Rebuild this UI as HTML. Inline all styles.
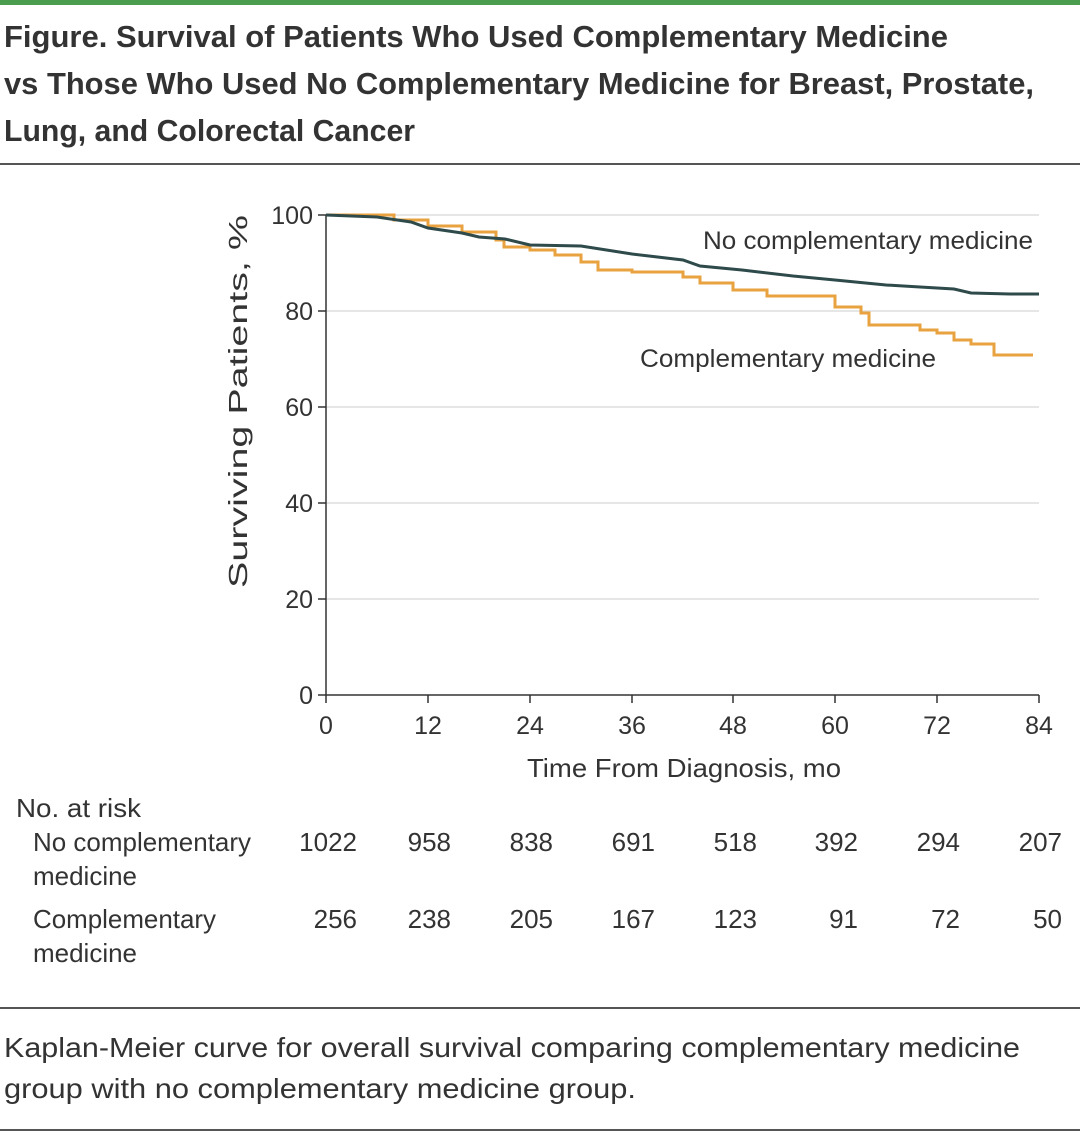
<!DOCTYPE html>
<html><head><meta charset="utf-8"><style>
body{margin:0;width:1080px;height:1136px;background:#fff;font-family:"Liberation Sans",sans-serif;color:#333;overflow:hidden}
</style></head><body>
<svg width="1080" height="1136" xmlns="http://www.w3.org/2000/svg" font-family="Liberation Sans, sans-serif">
<rect x="0" y="0" width="1080" height="5" fill="#4a9c4f"/>
<g font-size="31" fill="#333" font-weight="bold" lengthAdjust="spacingAndGlyphs">
<text x="4" y="47" textLength="944" lengthAdjust="spacingAndGlyphs">Figure. Survival of Patients Who Used Complementary Medicine</text>
<text x="4" y="94" textLength="1030" lengthAdjust="spacingAndGlyphs">vs Those Who Used No Complementary Medicine for Breast, Prostate,</text>
<text x="4" y="141" textLength="411" lengthAdjust="spacingAndGlyphs">Lung, and Colorectal Cancer</text>
</g>
<line x1="0" y1="164" x2="1080" y2="164" stroke="#555" stroke-width="2"/>
<g stroke="#ddd" stroke-width="1.5">
<line x1="326" y1="215" x2="1039" y2="215"/><line x1="326" y1="311" x2="1039" y2="311"/>
<line x1="326" y1="407" x2="1039" y2="407"/><line x1="326" y1="503" x2="1039" y2="503"/>
<line x1="326" y1="599" x2="1039" y2="599"/>
</g>
<g stroke="#333" stroke-width="1.5">
<line x1="326" y1="215" x2="326" y2="695"/><line x1="326" y1="695" x2="1039" y2="695"/>
<line x1="318" y1="215" x2="326" y2="215"/><line x1="318" y1="311" x2="326" y2="311"/><line x1="318" y1="407" x2="326" y2="407"/><line x1="318" y1="503" x2="326" y2="503"/><line x1="318" y1="599" x2="326" y2="599"/><line x1="318" y1="695" x2="326" y2="695"/>
<line x1="326" y1="695" x2="326" y2="703"/><line x1="428" y1="695" x2="428" y2="703"/><line x1="530" y1="695" x2="530" y2="703"/><line x1="632" y1="695" x2="632" y2="703"/><line x1="733" y1="695" x2="733" y2="703"/><line x1="835" y1="695" x2="835" y2="703"/><line x1="937" y1="695" x2="937" y2="703"/><line x1="1039" y1="695" x2="1039" y2="703"/>
</g>
<g font-size="25" fill="#333" text-anchor="end">
<text x="313" y="224">100</text><text x="313" y="320">80</text><text x="313" y="416">60</text><text x="313" y="512">40</text><text x="313" y="608">20</text><text x="313" y="704">0</text>
</g>
<g font-size="25" fill="#333" text-anchor="middle">
<text x="326" y="734">0</text><text x="428" y="734">12</text><text x="530" y="734">24</text><text x="632" y="734">36</text><text x="733" y="734">48</text><text x="835" y="734">60</text><text x="937" y="734">72</text><text x="1039" y="734">84</text>
</g>
<text x="527" y="777" font-size="26" fill="#333" textLength="314" lengthAdjust="spacingAndGlyphs">Time From Diagnosis, mo</text>
<text transform="translate(247,588) rotate(-90)" font-size="26" fill="#333" textLength="373" lengthAdjust="spacingAndGlyphs">Surviving Patients, %</text>
<polyline fill="none" stroke="#e8a23f" stroke-width="3" points="326,215 394,215 394,220 428,220 428,226 462,226 462,232 496,232 496,240 504,240 504,247 530,247 530,250 555,250 555,255 581,255 581,262 598,262 598,270 632,270 632,272 683,272 683,277 700,277 700,283 733,283 733,290 767,290 767,296 835,296 835,307 861,307 861,313 869,313 869,325 920,325 920,330 937,330 937,333 954,333 954,340 971,340 971,344 994,344 994,355 1033,355"/>
<polyline fill="none" stroke="#2e4a4a" stroke-width="3" points="326,215 377,217 411,222 428,228 462,233 479,237 505,239 530,245 581,246 632,254 683,260 700,266 742,270 793,276 835,280 886,285 920,287 954,289 971,293 1010,294 1039,294"/>
<g font-size="25" fill="#333" lengthAdjust="spacingAndGlyphs">
<text x="703" y="249" textLength="330" lengthAdjust="spacingAndGlyphs">No complementary medicine</text>
<text x="640" y="367" textLength="296" lengthAdjust="spacingAndGlyphs">Complementary medicine</text>
</g>
<g font-size="26" fill="#333">
<text x="16" y="817" textLength="125" lengthAdjust="spacingAndGlyphs">No. at risk</text>
<text x="33" y="851" textLength="218" lengthAdjust="spacingAndGlyphs">No complementary</text><text x="33" y="885" textLength="104" lengthAdjust="spacingAndGlyphs">medicine</text>
<text x="33" y="928" textLength="183" lengthAdjust="spacingAndGlyphs">Complementary</text><text x="33" y="962" textLength="104" lengthAdjust="spacingAndGlyphs">medicine</text>
</g>
<g font-size="26" fill="#333" text-anchor="end">
<text x="357" y="851">1022</text><text x="451" y="851">958</text><text x="553" y="851">838</text><text x="655" y="851">691</text><text x="757" y="851">518</text><text x="858" y="851">392</text><text x="960" y="851">294</text><text x="1062" y="851">207</text>
<text x="357" y="928">256</text><text x="451" y="928">238</text><text x="553" y="928">205</text><text x="655" y="928">167</text><text x="757" y="928">123</text><text x="858" y="928">91</text><text x="960" y="928">72</text><text x="1062" y="928">50</text>
</g>
<line x1="0" y1="1008" x2="1080" y2="1008" stroke="#555" stroke-width="2"/>
<g font-size="28" fill="#333">
<text x="4" y="1057" textLength="1016" lengthAdjust="spacingAndGlyphs">Kaplan-Meier curve for overall survival comparing complementary medicine</text>
<text x="4" y="1098" textLength="632" lengthAdjust="spacingAndGlyphs">group with no complementary medicine group.</text>
</g>
<line x1="0" y1="1130" x2="1080" y2="1130" stroke="#555" stroke-width="2"/>
</svg>
</body></html>
